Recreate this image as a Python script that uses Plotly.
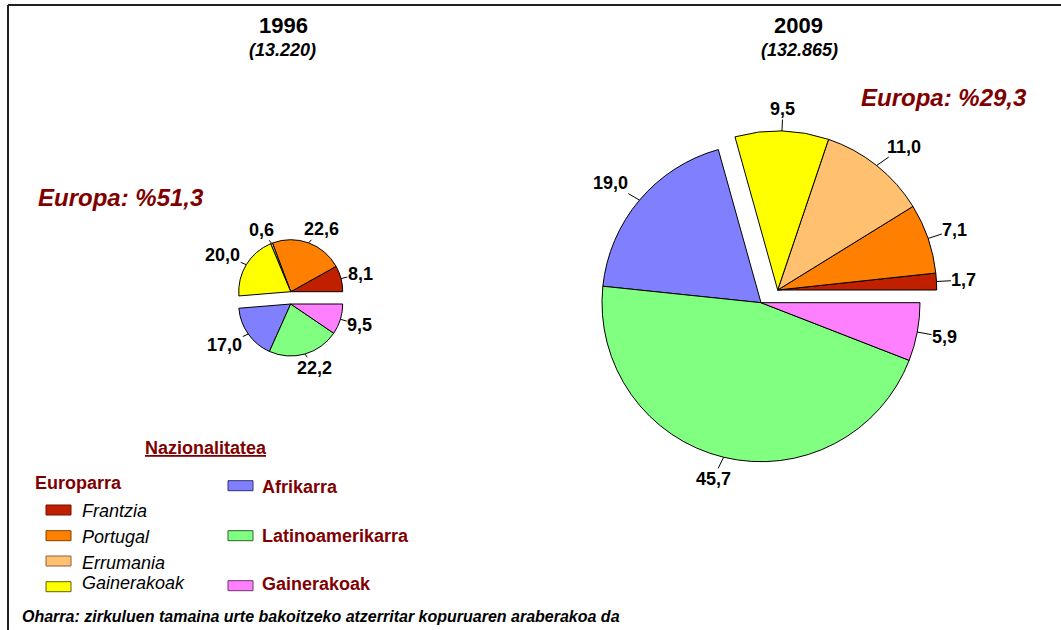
import math
import plotly.graph_objects as go

# ---------------- data ----------------
years = ["1996", "2009"]
totals = ["13.220", "132.865"]
europe_labels = ["Frantzia", "Portugal", "Errumania", "Gainerakoak"]
other_labels = ["Afrikarra", "Latinoamerikarra", "Gainerakoak"]
europe_1996 = [8.1, 22.6, 0.6, 20.0]
other_1996 = [17.0, 22.2, 9.5]
europe_2009 = [1.7, 7.1, 11.0, 9.5]
other_2009 = [19.0, 45.7, 5.9]
footnote = "Oharra: zirkuluen tamaina urte bakoitzeko atzerritar kopuruaren araberakoa da"

europe_colors = ["#C02000", "#FF8000", "#FFC070", "#FFFF00"]
other_colors = ["#8080FF", "#80FF80", "#FF80FF"]
europe_edge = ["#701000", "#804000", "#906040", "#606000"]
other_edge = ["#303070", "#306030", "#703070"]

# ---------------- layout constants (pixels) ----------------
W, H = 1061, 630
FONT = "Arial, Liberation Sans, sans-serif"
MAROON = "#800000"
LBL_FS = 18
LEG_FS = 18

# pie geometry: (centre of European part, centre of other part, radius, leader length)
pies = [
    dict(ce=(290.7, 291.7), co=(290.7, 304.0), r=52, lead=6,
         title=(283.3, 26), sub=(282.7, 50), share=(121, 197)),
    dict(ce=(777.7, 290.0), co=(761.0, 302.7), r=159, lead=14,
         title=(798.8, 26), sub=(799.7, 50), share=(944, 97)),
]


def px(x):
    return x / W


def py(y):
    return 1 - y / H


def domain(c, r):
    cx, cy = c
    return dict(x=[px(cx - r), px(cx + r)], y=[py(cy + r), py(cy - r)])


def fmt(v):
    return f"{v:.1f}".replace(".", ",")


def text_w(t, fs):
    w = 0
    for ch in t:
        w += 0.278 if ch in ",." else 0.556
    return w * fs


fig = go.Figure()
annotations = []
shapes = []

for i, (eu, ot) in enumerate([(europe_1996, other_1996), (europe_2009, other_2009)]):
    g = pies[i]
    values = eu + ot
    total = sum(values)
    labels = [f"e{k}" for k in range(len(eu))] + [f"o{k}" for k in range(len(ot))]
    transparent = "rgba(0,0,0,0)"
    # first slice starts at 3 o'clock and the slices run counterclockwise
    rot = 90 - values[0] / total * 360.0
    for part, centre in (("eu", g["ce"]), ("ot", g["co"])):
        if part == "eu":
            cols = europe_colors + [transparent] * len(ot)
            lw = [1] * len(eu) + [0] * len(ot)
        else:
            cols = [transparent] * len(eu) + other_colors
            lw = [0] * len(eu) + [1] * len(ot)
        fig.add_trace(go.Pie(
            values=values, labels=labels, sort=False,
            direction="counterclockwise", rotation=rot,
            marker=dict(colors=cols, line=dict(color="black", width=lw)),
            textinfo="none", hoverinfo="skip", showlegend=False,
            domain=domain(centre, g["r"]),
        ))

    # value labels with leader lines
    cum = 0.0
    for k, v in enumerate(values):
        mid = (cum + v / 2) / total * 360.0
        cum += v
        cx, cy = g["ce"] if k < len(eu) else g["co"]
        r = g["r"]
        a = math.radians(mid)
        c, s = math.cos(a), math.sin(a)
        ex, ey = cx + r * c, cy - r * s
        lx, ly = cx + (r + g["lead"]) * c, cy - (r + g["lead"]) * s
        t = fmt(v)
        w = text_w(t, LBL_FS)
        h = 14
        fx = max(-1, min(1, c / 0.6))
        fy = max(-1, min(1, s * 1.6))
        tx = lx + fx * (w / 2 + 1)
        ty = ly - fy * (h / 2 + 1)
        annotations.append(dict(
            x=px(ex), y=py(ey), xref="paper", yref="paper",
            ax=tx - ex, ay=ty - ey, axref="pixel", ayref="pixel",
            text=f"<b>{t}</b>", showarrow=True, arrowhead=0, arrowwidth=1,
            arrowcolor="black", standoff=0, startstandoff=0,
            xanchor="center", yanchor="middle", borderpad=0,
            font=dict(family=FONT, size=LBL_FS, color="black"),
        ))

    # titles
    annotations.append(dict(x=px(g["title"][0]), y=py(g["title"][1]), xref="paper", yref="paper",
                            text=f"<b>{years[i]}</b>", showarrow=False,
                            xanchor="center", yanchor="middle",
                            font=dict(family=FONT, size=22, color="black")))
    annotations.append(dict(x=px(g["sub"][0]), y=py(g["sub"][1]), xref="paper", yref="paper",
                            text=f"<b><i>({totals[i]})</i></b>", showarrow=False,
                            xanchor="center", yanchor="middle",
                            font=dict(family=FONT, size=18, color="black")))
    annotations.append(dict(x=px(g["share"][0]), y=py(g["share"][1]), xref="paper", yref="paper",
                            text=f"<b><i>Europa: %{fmt(sum(eu))}</i></b>", showarrow=False,
                            xanchor="center", yanchor="middle",
                            font=dict(family=FONT, size=24, color=MAROON)))

# ---------------- custom legend ----------------
annotations.append(dict(x=px(205.5), y=py(448), xref="paper", yref="paper",
                        text="<b><u>Nazionalitatea</u></b>", showarrow=False,
                        xanchor="center", yanchor="middle",
                        font=dict(family=FONT, size=LEG_FS, color=MAROON)))
annotations.append(dict(x=px(33), y=py(483), xref="paper", yref="paper",
                        text="<b>Europarra</b>", showarrow=False,
                        xanchor="left", yanchor="middle",
                        font=dict(family=FONT, size=LEG_FS, color=MAROON)))

left_sw_y = [510, 535.7, 561, 586.7]
left_tx_y = [510.7, 536.7, 562.7, 582.7]
for k, lab in enumerate(europe_labels):
    shapes.append(dict(type="rect", xref="paper", yref="paper",
                       x0=px(46), x1=px(71), y0=py(left_sw_y[k] - 5), y1=py(left_sw_y[k] + 5),
                       fillcolor=europe_colors[k], line=dict(color=europe_edge[k], width=1)))
    annotations.append(dict(x=px(80), y=py(left_tx_y[k]), xref="paper", yref="paper",
                            text=f"<i>{lab}</i>", showarrow=False,
                            xanchor="left", yanchor="middle",
                            font=dict(family=FONT, size=LEG_FS, color="black")))

right_sw_y = [485.7, 535.7, 585.7]
right_tx_y = [486.7, 536, 584]
for k, lab in enumerate(other_labels):
    shapes.append(dict(type="rect", xref="paper", yref="paper",
                       x0=px(228), x1=px(253), y0=py(right_sw_y[k] - 5), y1=py(right_sw_y[k] + 5),
                       fillcolor=other_colors[k], line=dict(color=other_edge[k], width=1)))
    annotations.append(dict(x=px(260), y=py(right_tx_y[k]), xref="paper", yref="paper",
                            text=f"<b>{lab}</b>", showarrow=False,
                            xanchor="left", yanchor="middle",
                            font=dict(family=FONT, size=LEG_FS, color=MAROON)))

annotations.append(dict(x=px(20), y=py(616.7), xref="paper", yref="paper",
                        text=f"<b><i>{footnote}</i></b>", showarrow=False,
                        xanchor="left", yanchor="middle",
                        font=dict(family=FONT, size=16, color="black")))

# frame (top and left edges)
shapes.append(dict(type="line", xref="paper", yref="paper", x0=px(8), x1=1, y0=py(5), y1=py(5),
                   line=dict(color="#202020", width=2)))
shapes.append(dict(type="line", xref="paper", yref="paper", x0=px(8), x1=px(8), y0=py(5), y1=0,
                   line=dict(color="#202020", width=2)))

fig.update_layout(
    width=W, height=H, margin=dict(l=0, r=0, t=0, b=0),
    paper_bgcolor="white", plot_bgcolor="white",
    annotations=annotations, shapes=shapes, showlegend=False,
)

fig.write_html("out.html", config={"displayModeBar": False},
               post_script="document.body.style.margin='0';")
